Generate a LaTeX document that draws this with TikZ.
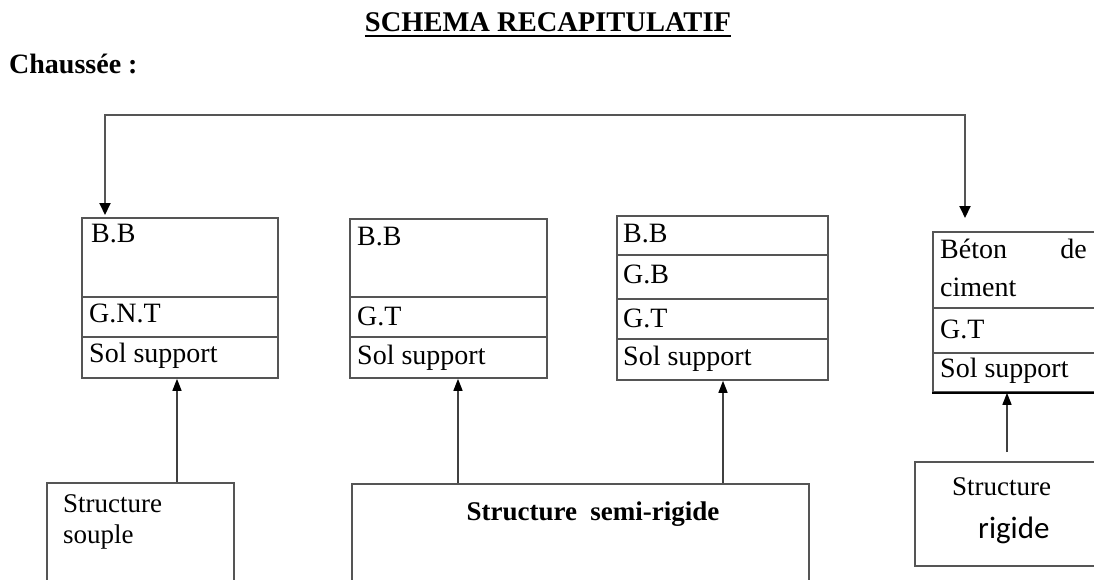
\documentclass[tikz,border=0pt]{standalone}
\usepackage{fontspec}
\setmainfont{Liberation Serif}
\newfontfamily\calib{Carlito}
\usetikzlibrary{arrows.meta,calc}
\definecolor{linegray}{HTML}{555555}
\begin{document}
\begin{tikzpicture}[x=1pt,y=-1pt,
  box/.style={draw=linegray, line width=1.8pt, inner sep=0pt, anchor=north west},
  sep/.style={draw=linegray, line width=1.8pt},
  lbl/.style={anchor=base west, inner sep=0pt, font=\fontsize{28}{30}\selectfont},
  tip/.tip={Triangle[width=11pt,length=12pt,fill=black,color=black]},
  arr/.style={draw=black!75, line width=1.4pt, -{Triangle[width=9pt,length=12pt,fill=black,color=black]}},
]
\useasboundingbox (0,0) rectangle (1094,580);
\clip (0,0) rectangle (1094,580);

% title
\node[anchor=base, inner sep=0pt, font=\fontsize{28.5}{32}\selectfont\bfseries] (title) at (548,32) {SCHEMA RECAPITULATIF};
\draw[line width=2.6pt] ($(title.base west)+(0,4)$) -- ($(title.base east)+(0,4)$);
\node[anchor=base west, inner sep=0pt, font=\fontsize{28}{30}\selectfont\bfseries] (ch) at (9,74) {Chaussée :};

% upper boxes
\node[box, minimum width=196pt, minimum height=160pt] (b1) at (81,217) {};
\draw[sep] (b1.west |- 0,297) -- (b1.east |- 0,297);
\draw[sep] (b1.west |- 0,337) -- (b1.east |- 0,337);
\node[lbl] (b1a) at (91,242) {B.B};
\node[lbl] (b1b) at (89,322) {G.N.T};
\node[lbl] (b1c) at (89,362) {Sol support};

\node[box, minimum width=197pt, minimum height=159pt] (b2) at (349,218) {};
\draw[sep] (b2.west |- 0,297) -- (b2.east |- 0,297);
\draw[sep] (b2.west |- 0,337) -- (b2.east |- 0,337);
\node[lbl] (b2a) at (357,245) {B.B};
\node[lbl] (b2b) at (357,325) {G.T};
\node[lbl] (b2c) at (357,364) {Sol support};

\node[box, minimum width=211pt, minimum height=164pt] (b3) at (616,215) {};
\draw[sep] (b3.west |- 0,255) -- (b3.east |- 0,255);
\draw[sep] (b3.west |- 0,299) -- (b3.east |- 0,299);
\draw[sep] (b3.west |- 0,339) -- (b3.east |- 0,339);
\node[lbl] (b3a) at (623,242) {B.B};
\node[lbl] (b3b) at (623,283) {G.B};
\node[lbl] (b3c) at (623,327) {G.T};
\node[lbl] (b3d) at (623,365) {Sol support};

\node[box, minimum width=180pt, minimum height=160pt] (b4) at (932,231) {};
\draw[sep] (b4.west |- 0,308) -- (b4.east |- 0,308);
\draw[sep] (b4.west |- 0,353) -- (b4.east |- 0,353);
\draw[line width=2.4pt] (b4.south west) -- (b4.south east);
\node[lbl] (b4a) at (940,258) {Béton};
\node[lbl, anchor=base east] (b4b) at (1087,258) {de};
\node[lbl] (b4c) at (940,296) {ciment};
\node[lbl] (b4d) at (940,338) {G.T};
\node[lbl] (b4e) at (940,377) {Sol support};

% lower boxes
\node[box, minimum width=187pt, minimum height=120pt] (s1) at (46,482) {};
\node[lbl, font=\fontsize{27}{30}\selectfont] (s1a) at (63,512) {Structure};
\node[lbl, font=\fontsize{27}{30}\selectfont] (s1b) at (63,543) {souple};

\node[box, minimum width=457pt, minimum height=120pt] (s2) at (351,483) {};
\node[anchor=base, inner sep=0pt, font=\fontsize{27}{30}\selectfont\bfseries] (s2a) at (593,520) {Structure\ \ semi-rigide};

\node[box, minimum width=200pt, minimum height=104pt] (s3) at (914,461) {};
\node[lbl, font=\fontsize{27}{30}\selectfont] (s3a) at (952,495) {Structure};
\node[lbl, font=\fontsize{31}{30}\selectfont\calib] (s3b) at (978,538) {rigide};

% top connector
\coordinate (tl) at (105,115);
\coordinate (tr) at (965,115);
\draw[line width=2pt, draw=linegray, tip-tip, shorten <=2pt, shorten >=13pt]
  (tl |- b1.north) -- (tl) -- (tr) -- (tr |- b4.north);

% lower connectors
\coordinate (x1) at (177,430);
\coordinate (x2) at (458,430);
\coordinate (x3) at (723,430);
\coordinate (x4) at (1007,430);
\draw[arr] (s1.north -| x1) -- (b1.south -| x1);
\draw[arr] (s2.north -| x2) -- (b2.south -| x2);
\draw[arr] (s2.north -| x3) -- (b3.south -| x3);
\draw[arr, shorten <=9pt] (s3.north -| x4) -- (b4.south -| x4);
\end{tikzpicture}
\end{document}
